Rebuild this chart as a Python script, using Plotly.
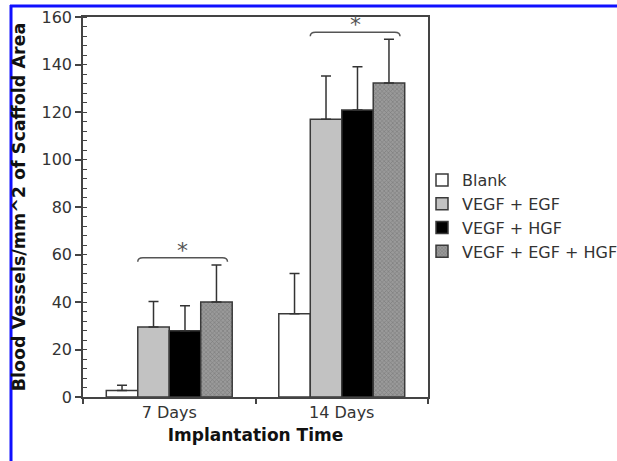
import plotly.graph_objects as go

categories = ["7 Days", "14 Days"]
series_names = ["Blank", "VEGF + EGF", "VEGF + HGF", "VEGF + EGF + HGF"]
blank = [2.7, 35.1]
vegf_egf = [29.5, 116.9]
vegf_hgf = [27.9, 120.8]
vegf_egf_hgf = [40.0, 132.2]
err_blank = [2.3, 16.9]
err_vegf_egf = [10.7, 18.3]
err_vegf_hgf = [10.5, 18.3]
err_vegf_egf_hgf = [15.6, 18.4]
significance = ["*", "*"]

values = [blank, vegf_egf, vegf_hgf, vegf_egf_hgf]
errors = [err_blank, err_vegf_egf, err_vegf_hgf, err_vegf_egf_hgf]

L, R, T, B = 83, 189, 17, 64
W, H = 617, 461
pw, ph = W - L - R, H - T - B

def px2x(px):
    return (px - L) / pw

def py2y(py):
    return (H - B - py) / ph

fills = ["#ffffff", "#c2c2c2", "#000000", "#8c8c8c"]
xs = list(range(len(categories)))
bargap = 0.27

fig = go.Figure()
for i, name in enumerate(series_names):
    marker = dict(color=fills[i], line=dict(color="#3a3a3a", width=1.5))
    if i == 3:
        marker["pattern"] = dict(shape="x", size=3, solidity=0.35,
                                 fgcolor="#5a5a5a", bgcolor="#9a9a9a")
    fig.add_trace(go.Bar(
        x=xs, y=values[i], name=name, marker=marker,
        error_y=dict(type="data", array=errors[i], arrayminus=[0] * len(xs),
                     symmetric=False, color="#333333", thickness=1.5, width=5),
    ))

# significance brackets over the growth-factor groups
bar_w = (1 - bargap) / len(series_names)
gl = -(1 - bargap) / 2
shapes = []
annotations = []
for j, x in enumerate(xs):
    x0 = x + gl + bar_w
    x1 = x + gl + 4 * bar_w - 0.15 * bar_w
    top = max(values[k][j] + errors[k][j] for k in range(1, 4))
    yb = top + 3
    d = 1.7
    r = 0.03
    path = (f"M {x0},{yb - d} Q {x0},{yb} {x0 + r},{yb} "
            f"L {x1 - r},{yb} Q {x1},{yb} {x1},{yb - d}")
    shapes.append(dict(type="path", path=path, xref="x", yref="y",
                       line=dict(color="#555555", width=1.5)))
    annotations.append(dict(x=(x0 + x1) / 2, y=yb, xref="x", yref="y",
                            text=significance[j], showarrow=False,
                            yanchor="bottom", yshift=-7,
                            font=dict(size=22, color="#555555", family="DejaVu Sans")))

# blue frame lines from the source figure
blue = "#1010ff"
shapes.append(dict(type="line", xref="paper", yref="paper",
                   x0=px2x(11), x1=px2x(11), y0=py2y(W), y1=py2y(5),
                   line=dict(color=blue, width=3)))
shapes.append(dict(type="line", xref="paper", yref="paper",
                   x0=px2x(10), x1=px2x(W + 5), y0=py2y(6), y1=py2y(6),
                   line=dict(color=blue, width=3)))

font = "DejaVu Sans"
fig.update_layout(
    width=W, height=H,
    margin=dict(l=L, r=R, t=T, b=B, pad=0, autoexpand=False),
    paper_bgcolor="white", plot_bgcolor="white",
    barmode="group", bargap=bargap, bargroupgap=0,
    font=dict(family=font, size=16, color="#333333"),
    showlegend=True,
    legend=dict(x=px2x(422), y=py2y(163), xanchor="left", yanchor="top",
                font=dict(size=16, color="#333333"), bgcolor="rgba(0,0,0,0)",
                itemwidth=30, tracegroupgap=0),
    shapes=shapes, annotations=annotations,
)
fig.update_xaxes(
    range=[-0.5, 1.5], tickmode="array", tickvals=xs, ticktext=categories,
    ticks="", showgrid=False, zeroline=False, automargin=False,
    showline=True, linecolor="#444444", linewidth=1.5, mirror=True,
    tickfont=dict(size=16, color="#333333"),
    minor=dict(ticks="outside", tick0=0.5, dtick=1, ticklen=5,
               tickcolor="#444444", tickwidth=1.5, showgrid=False),
    title=dict(text="<b>Implantation Time</b>", font=dict(size=17, color="#111111"),
               standoff=8),
)
fig.update_yaxes(
    range=[0, 160], dtick=20, ticks="outside", ticklen=6, tickwidth=1.5,
    tickcolor="#444444", showgrid=False, zeroline=False, automargin=False,
    showline=True, linecolor="#444444", linewidth=1.5, mirror=True,
    tickfont=dict(size=16, color="#333333"),
    minor=dict(ticks="inside", dtick=4, ticklen=4, tickcolor="#444444",
               tickwidth=1, showgrid=False),
    title=dict(text="<b>Blood Vessels/mm^2 of Scaffold Area</b>",
               font=dict(size=17.5, color="#111111"), standoff=11),
)

fig.write_html("out.html", config={"displayModeBar": False},
               post_script="document.body.style.margin='0px';document.body.style.overflow='hidden';")
